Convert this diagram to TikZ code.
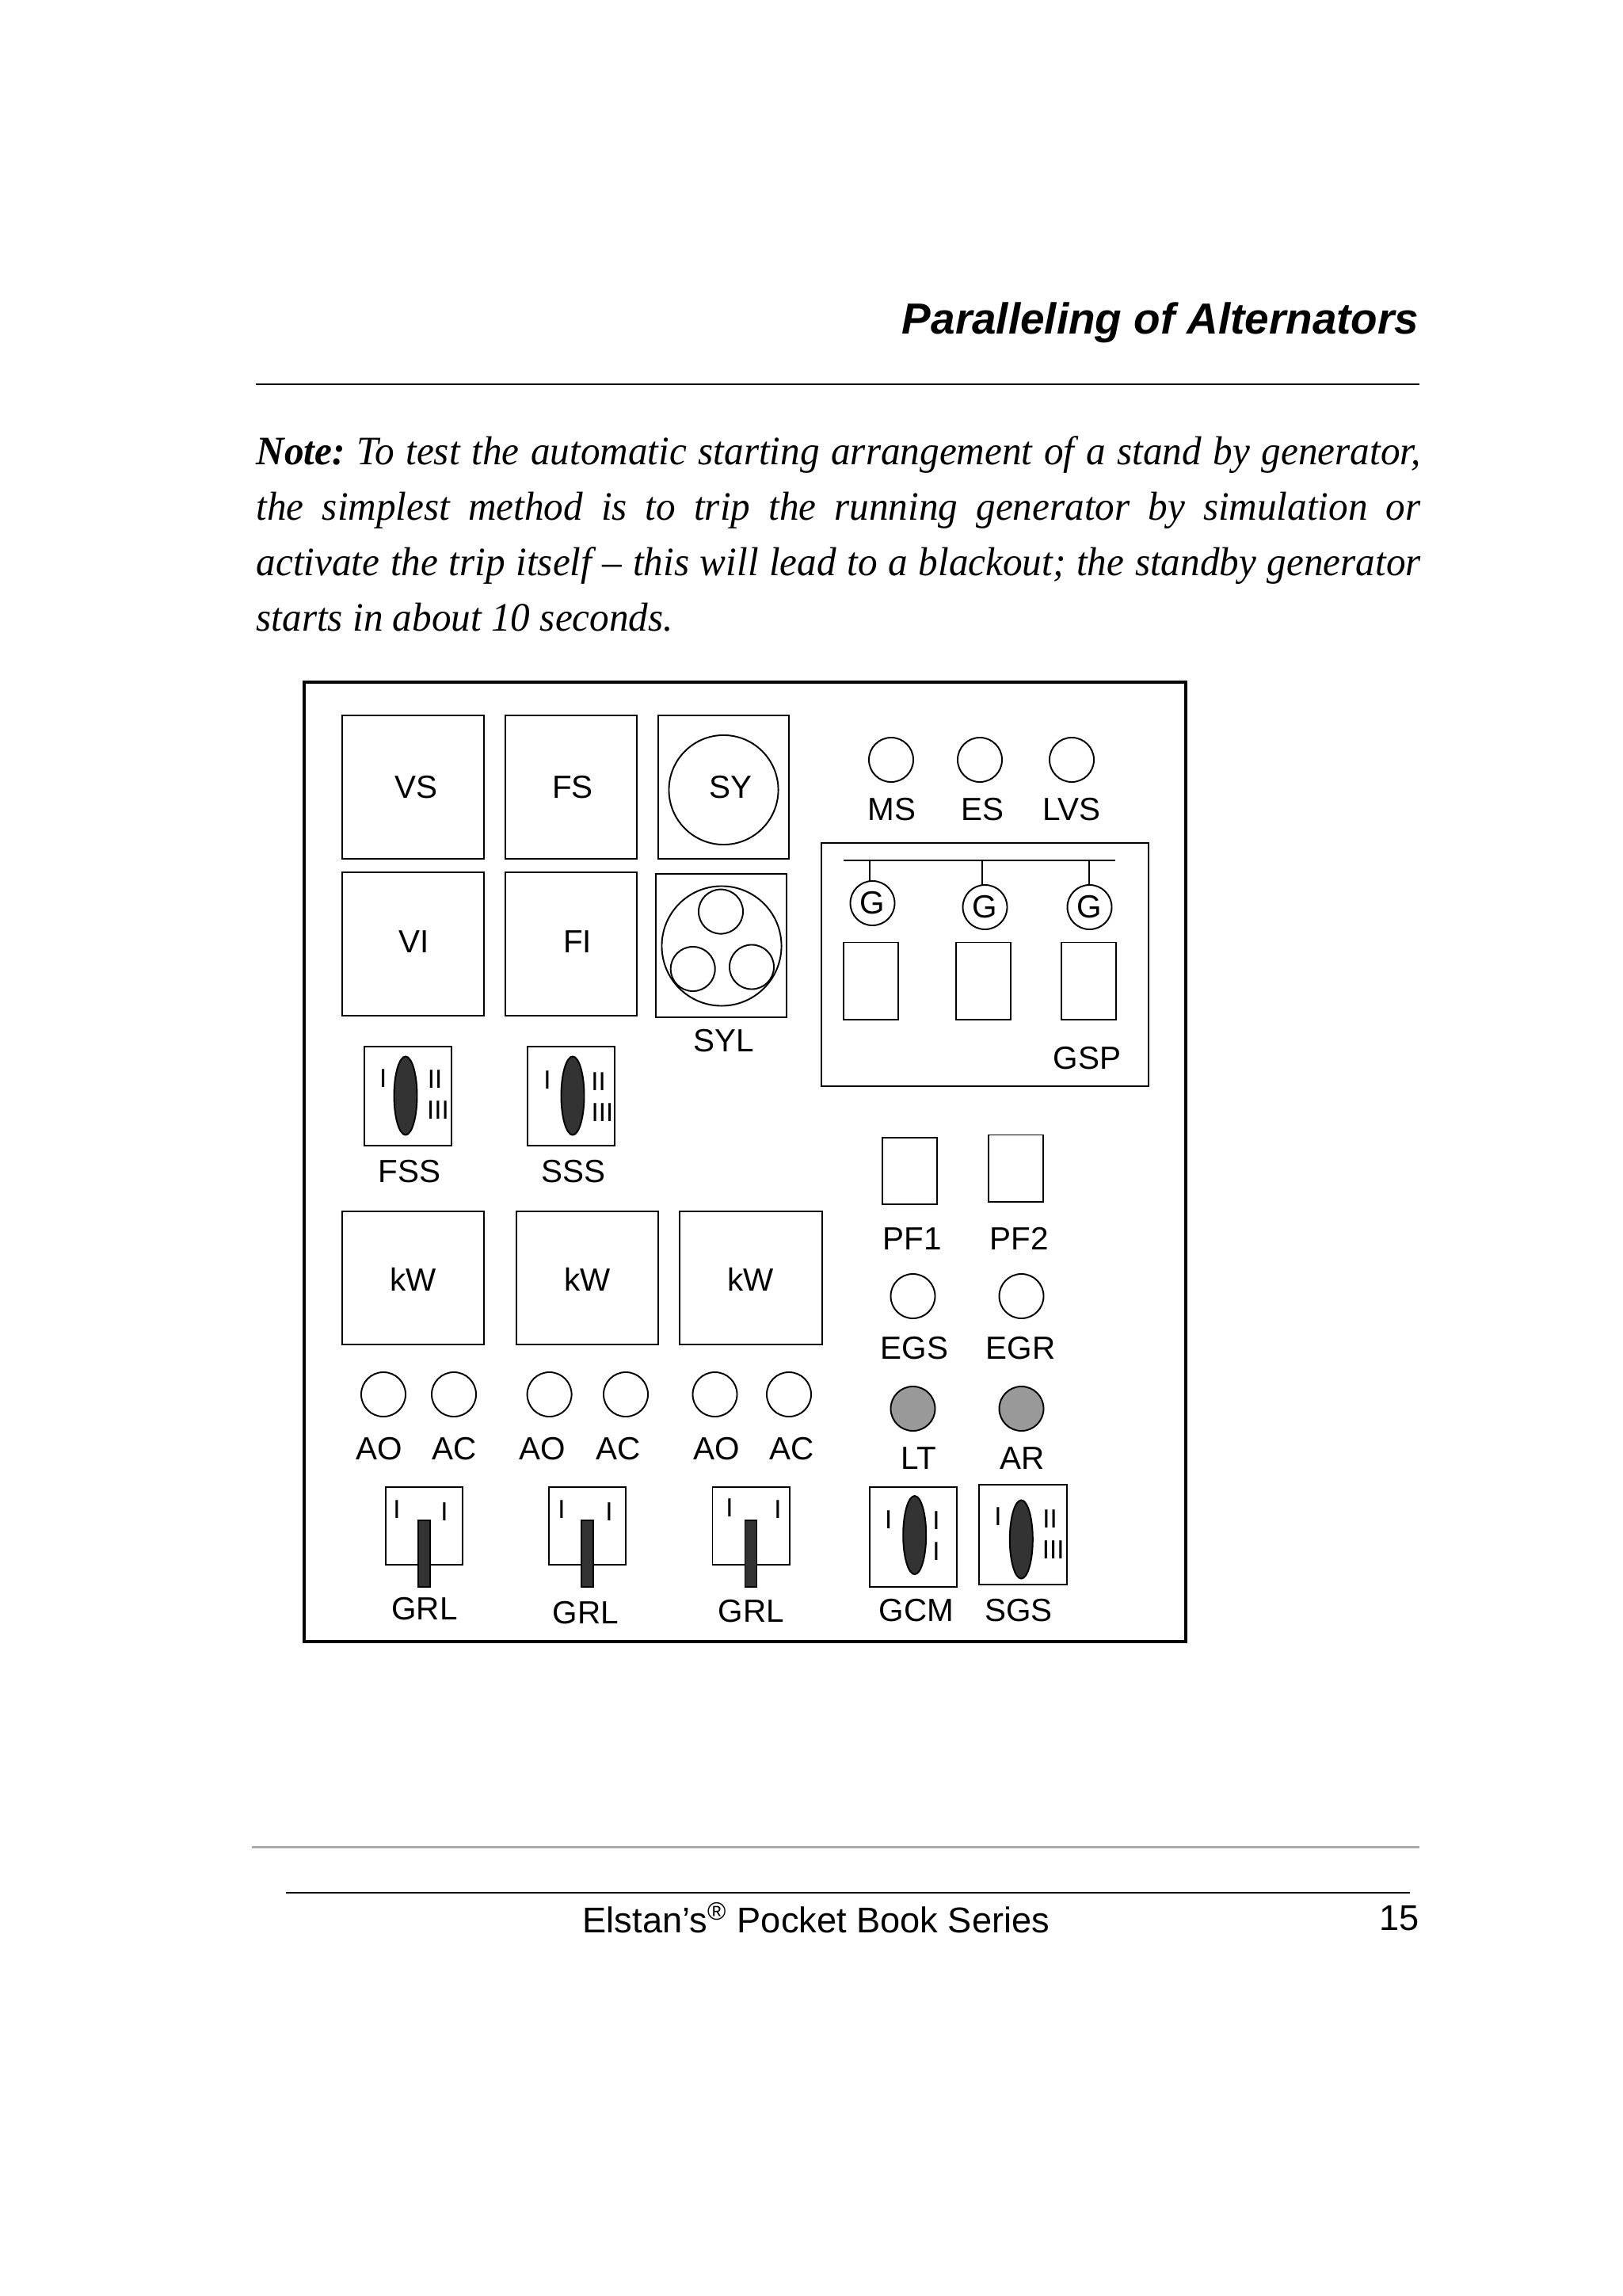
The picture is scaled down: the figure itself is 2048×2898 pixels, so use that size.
\documentclass[tikz,border=0pt]{standalone}
\usepackage{fontspec}
\setmainfont{Liberation Serif}
\setsansfont{Liberation Sans}
\newfontfamily\notefont[FakeStretch=0.965, WordSpace={1,1,2.5}]{Liberation Serif}
\usetikzlibrary{shapes.geometric}
\definecolor{mDark}{HTML}{333333}
\definecolor{mLamp}{HTML}{999999}
\definecolor{mRule}{HTML}{AAAAAA}
\tikzset{
  panel/.style = {draw=black, line width=0.55pt, inner sep=0pt, outer sep=0pt},
  dial/.style  = {panel, circle},
  lamp/.style  = {dial, minimum size=0.56cm},
  lampg/.style = {lamp, fill=mLamp},
  knob/.style  = {panel, ellipse, fill=mDark, minimum width=0.29cm, minimum height=0.99cm},
  lever/.style = {panel, fill=mDark, minimum width=0.15cm, minimum height=0.84cm},
  lbl/.style   = {font=\sffamily\fontsize{11.5}{13}\selectfont, inner sep=0pt},
  mrk/.style   = {font=\sffamily\fontsize{9.4}{11}\selectfont, inner sep=0pt},
  hdr/.style   = {line width=0.6pt},
}
\begin{document}
\begin{tikzpicture}[x=0.01cm, y=-0.01cm]
  \useasboundingbox (0,0) rectangle (2048,2898);
  % page head
  \node[font=\sffamily\bfseries\itshape\fontsize{15.6}{18}\selectfont, anchor=base east, inner sep=0pt]
       (title) at (1792,421.7) {Paralleling of Alternators};
  \draw[hdr] (323,485) -- (1792,485);
  \node[anchor=north west, inner sep=0pt, text width=14.69cm, align=justify,
        font=\notefont\itshape\fontsize{14.5}{19.9}\selectfont] (note) at (323,550)
    {\frenchspacing\hyphenpenalty=10000\tolerance=9999
     \textbf{Note:} To test the automatic starting arrangement of a stand by generator,\linebreak
     the simplest method is to trip the running generator by simulation or\linebreak
     activate the trip itself – this will lead to a blackout; the standby generator\linebreak
     starts in about 10 seconds.};
  % outer frame
  \node[draw=black, line width=1.1pt, inner sep=0pt, minimum width=11.13cm, minimum height=12.11cm]
       (frame) at (940.5,1466.5) {};
  % large meters
  \foreach \n/\x/\y/\w/\h in {vs/521.5/993.5/1.79/1.81, fs/721/993.5/1.66/1.81, sy/913.2/993.5/1.65/1.81,
                              vi/521.5/1191.5/1.79/1.81, fi/721/1191.5/1.66/1.81, syl/910.5/1193.5/1.65/1.81,
                              kwa/521.5/1613/1.79/1.67, kwb/741.5/1613/1.79/1.67, kwc/948/1613/1.79/1.67}
    \node[panel, minimum width=\w cm, minimum height=\h cm] (\n) at (\x,\y) {};
  \foreach \n/\x/\y/\t in {vst/525/993.5/VS, fst/723/993.5/FS, vit/523/1188.5/VI, fit/729/1188.5/FI,
                           kwat/521.5/1614.5/kW, kwbt/741.6/1614.5/kW, kwct/947.4/1614.5/kW}
    \node[lbl] (\n) at (\x,\y) {\t};
  % synchroscope and its lamps
  \node[dial, minimum size=1.38cm] (sydial) at (913.5,997) {};
  \node[lbl] (syt) at (922,993.5) {SY};
  \node[dial, minimum size=1.51cm] (syldial) at (911,1194) {};
  \foreach \n/\x/\y in {syla/910/1150.6, sylb/874.7/1223, sylc/949/1220.5}
    \node[lamp] (\n) at (\x,\y) {};
  \node[lbl] (sylt) at (913.5,1314) {SYL};
  % three position switches
  \foreach \n/\x/\y/\w/\h in {fss/515/1383.5/1.10/1.25, sss/721/1383.5/1.10/1.25,
                              gcm/1153/1940/1.10/1.26, sgs/1291.5/1937/1.11/1.26}
    \node[panel, minimum width=\w cm, minimum height=\h cm] (\n) at (\x,\y) {};
  \foreach \n/\x/\y in {fssk/512/1383, sssk/723/1383, gcmk/1154.7/1937.6, sgsk/1289.3/1943}
    \node[knob] (\n) at (\x,\y) {};
  \foreach \n/\x/\y/\t in {fssa/483.7/1361/I, fssb/549/1362/II, fssc/553/1401/III,
                           sssa/691/1363/I, sssb/755.5/1365/II, sssc/760.4/1404/III,
                           gcma/1121.7/1918/I, gcmb/1182/1919/I, gcmc/1182/1958.5/I,
                           sgsa/1260/1914.5/I, sgsb/1325.5/1917/II, sgsc/1329.7/1956/III}
    \node[mrk] (\n) at (\x,\y) {\t};
  \foreach \n/\x/\y/\t in {fsst/517/1479/FSS, ssst/724/1479/SSS, gcmt/1157/2032.5/GCM, sgst/1286/2032.5/SGS}
    \node[lbl] (\n) at (\x,\y) {\t};
  % indicator lamps
  \foreach \n/\x/\y/\t/\tx/\ty in {ms/1125/959/MS/1126/1021.5, es/1237/959/ES/1240/1021.5, lvs/1353/959/LVS/1353/1021.5,
                                   aoa/484/1760/AO/479/1828.5, aca/573/1760/AC/574/1828.5,
                                   aob/693.6/1760/AO/685/1828.5, acb/790/1760/AC/780.5/1828.5,
                                   aoc/902.5/1760/AO/904.5/1828.5, acc/996/1760/AC/1000/1828.5,
                                   egs/1152.5/1636/EGS/1154.5/1701.5, egr/1289.5/1636/EGR/1288.5/1701.5}{
    \node[lamp] (\n) at (\x,\y) {};
    \node[lbl] (\n t) at (\tx,\ty) {\t};
  }
  \foreach \n/\x/\y/\t/\tx/\ty in {lt/1152.5/1778/LT/1160/1840.5, ar/1289.5/1778/AR/1290.5/1840.5}{
    \node[lampg] (\n) at (\x,\y) {};
    \node[lbl] (\n t) at (\tx,\ty) {\t};
  }
  % synchronising panel
  \node[panel, minimum width=4.13cm, minimum height=3.065cm] (gsp) at (1243.5,1217.3) {};
  \node[lbl] (gspt) at (1372.5,1336) {GSP};
  \coordinate (busl) at (1065,1086.4);
  \coordinate (busr) at (1408,1086.4);
  \draw[line width=0.55pt] (busl) -- (busr);
  \foreach \n/\x/\y/\bx/\rx in {a/1101.5/1140/1098/1099.4, b/1243.5/1145/1240/1241.5, c/1375.5/1145/1375/1374.2}{
    \node[lamp, font=\sffamily\fontsize{11.5}{13}\selectfont] (g\n) at (\x,\y) {G};
    \coordinate (bus\n) at (\bx,1086.4);
    \draw[line width=0.55pt] (bus\n) -- (bus\n |- g\n.north);
    \node[panel, minimum width=0.69cm, minimum height=0.975cm] (gm\n) at (\rx,1238.3) {};
  }
  % power factor meters
  \node[panel, minimum width=0.69cm, minimum height=0.84cm] (pfa) at (1148.4,1477.6) {};
  \node[panel, minimum width=0.69cm, minimum height=0.84cm] (pfb) at (1282.9,1474.5) {};
  \node[lbl] (pfat) at (1152,1563.5) {PF1};
  \node[lbl] (pfbt) at (1286.7,1563.5) {PF2};
  % breaker levers
  \foreach \n/\x/\lx/\y/\t/\ma/\mb/\mya/\myb in {a/535.5/536/2030.5/GRL/501/561/1905/1907.7,
                                                 b/741.7/739.5/2036/GRL/709/769/1905/1907.7,
                                                 c/948/948.5/2033.5/GRL/921/982/1903/1905}{
    \node[panel, minimum width=0.97cm, minimum height=0.98cm] (grl\n) at (\x,1926) {};
    \node[lever] (lev\n) at (\x,1961) {};
    \node[mrk] (grl\n p) at (\ma,\mya) {I};
    \node[mrk] (grl\n q) at (\mb,\myb) {I};
    \node[lbl] (grl\n t) at (\lx,\y) {\t};
  }
  % page foot
  \draw[mRule, line width=0.6pt] (318,2331.5) -- (1792,2331.5);
  \draw[hdr] (361,2389) -- (1780,2389);
  \node[font=\sffamily\fontsize{12.85}{15}\selectfont, anchor=base west, inner sep=0pt]
       (series) at (735,2439) {Elstan’s\textsuperscript{®} Pocket Book Series};
  \node[font=\sffamily\fontsize{12.85}{15}\selectfont, anchor=base east, inner sep=0pt]
       (pageno) at (1792,2436.7) {15};
\end{tikzpicture}
\end{document}
